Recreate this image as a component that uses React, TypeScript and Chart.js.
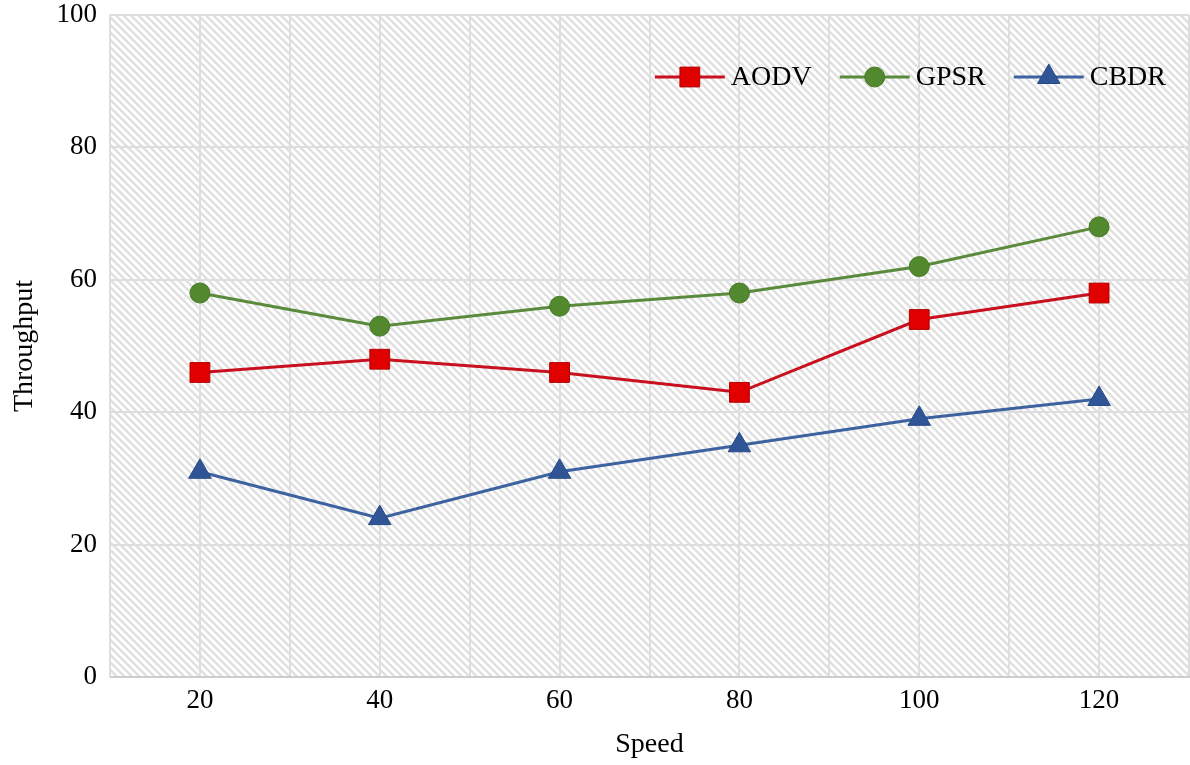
import React, { useEffect, useRef } from "react";
import { Chart, registerables } from "chart.js";

Chart.register(...registerables);

const speeds = [20, 40, 60, 80, 100, 120];
const aodv = [46, 48, 46, 43, 54, 58];
const gpsr = [58, 53, 56, 58, 62, 68];
const cbdr = [31, 24, 31, 35, 39, 42];
const seriesLabels = ["AODV", "GPSR", "CBDR"];
const xTickLabels = ["20", "40", "60", "80", "100", "120"];

const FONT = "'Liberation Serif', 'Times New Roman', serif";

const hatchPlugin = {
  id: "hatch",
  beforeDraw(chart: any) {
    const { ctx, chartArea } = chart;
    const { left, top, right, bottom } = chartArea;
    const h = bottom - top;
    ctx.save();
    ctx.fillStyle = "#ffffff";
    ctx.fillRect(left, top, right - left, h);
    ctx.beginPath();
    ctx.rect(left, top, right - left, h);
    ctx.clip();
    ctx.strokeStyle = "#dfdfdf";
    ctx.lineWidth = 2.4;
    ctx.beginPath();
    for (let x = left - h; x < right + 8; x += 7.5) {
      ctx.moveTo(x, top);
      ctx.lineTo(x + h, bottom);
    }
    ctx.stroke();
    ctx.restore();
  },
};

const legendPlugin = {
  id: "lineLegend",
  afterDraw(chart: any) {
    const { ctx, chartArea } = chart;
    const datasets = chart.data.datasets;
    ctx.save();
    ctx.font = `28px ${FONT}`;
    const lineLen = 70;
    const gapText = 6;
    const gapItem = 28;
    const widths = datasets.map((d: any) => ctx.measureText(d.label).width);
    let total = 0;
    datasets.forEach((_: any, i: number) => {
      total += lineLen + gapText + widths[i];
      if (i < datasets.length - 1) total += gapItem;
    });
    let x = chartArea.right - 23 - total;
    const y = chartArea.top + 62;
    datasets.forEach((d: any, i: number) => {
      ctx.strokeStyle = d.borderColor;
      ctx.lineWidth = 3;
      ctx.beginPath();
      ctx.moveTo(x, y);
      ctx.lineTo(x + lineLen, y);
      ctx.stroke();
      ctx.fillStyle = d.pointBackgroundColor;
      ctx.strokeStyle = d.pointBorderColor;
      ctx.lineWidth = d.pointBorderWidth;
      ctx.beginPath();
      const px = x + lineLen / 2;
      if (d.pointStyle === "rect") {
        const s = Math.SQRT1_2 * d.pointRadius;
        ctx.rect(px - s, y - s, 2 * s, 2 * s);
      } else if (d.pointStyle === "circle") {
        ctx.arc(px, y, d.pointRadius, 0, Math.PI * 2);
      } else {
        const r = d.pointRadius;
        let a = 0;
        ctx.moveTo(px + Math.sin(a) * r, y - Math.cos(a) * r);
        a += (2 * Math.PI) / 3;
        ctx.lineTo(px + Math.sin(a) * r, y - Math.cos(a) * r);
        a += (2 * Math.PI) / 3;
        ctx.lineTo(px + Math.sin(a) * r, y - Math.cos(a) * r);
        ctx.closePath();
      }
      ctx.fill();
      ctx.stroke();
      ctx.fillStyle = "#000000";
      ctx.textAlign = "left";
      ctx.textBaseline = "middle";
      ctx.fillText(d.label, x + lineLen + gapText, y + 1);
      x += lineLen + gapText + widths[i] + gapItem;
    });
    ctx.restore();
  },
};

export default function App() {
  const ref = useRef<HTMLCanvasElement | null>(null);

  useEffect(() => {
    document.body.style.margin = "0";
    document.body.style.overflow = "hidden";
    document.documentElement.style.overflow = "hidden";
    if (!ref.current) return;
    const toPts = (vals: number[]) => speeds.map((s, i) => ({ x: s, y: vals[i] }));
    const chart = new Chart(ref.current, {
      type: "line",
      data: {
        datasets: [
          {
            label: seriesLabels[0],
            data: toPts(aodv),
            borderColor: "#c8101e",
            borderWidth: 3,
            pointStyle: "rect",
            pointRadius: 14,
            pointBackgroundColor: "#e00000",
            pointBorderColor: "#b40000",
            pointBorderWidth: 1,
            tension: 0,
          },
          {
            label: seriesLabels[1],
            data: toPts(gpsr),
            borderColor: "#5a8a3c",
            borderWidth: 3,
            pointStyle: "circle",
            pointRadius: 10,
            pointBackgroundColor: "#52892e",
            pointBorderColor: "#477a26",
            pointBorderWidth: 1,
            tension: 0,
          },
          {
            label: seriesLabels[2],
            data: toPts(cbdr),
            borderColor: "#3d62a0",
            borderWidth: 3,
            pointStyle: "triangle",
            pointRadius: 13,
            pointBackgroundColor: "#2f5597",
            pointBorderColor: "#284a86",
            pointBorderWidth: 1,
            tension: 0,
          },
        ] as any,
      },
      options: {
        animation: false,
        responsive: false,
        layout: { padding: { top: 14, right: 1, bottom: 0, left: 0 } },
        plugins: {
          legend: { display: false },
          tooltip: { enabled: false },
        },
        scales: {
          x: {
            type: "linear",
            min: 10,
            max: 130,
            afterFit: (s: any) => {
              s.height = 88;
              s.paddingLeft = 0;
              s.paddingRight = 0;
            },
            ticks: {
              stepSize: 10,
              autoSkip: false,
              maxRotation: 0,
              padding: 8,
              color: "#000000",
              font: { family: FONT, size: 27 },
              callback: (v: any) => {
                const i = speeds.indexOf(Number(v));
                return i >= 0 ? xTickLabels[i] : "";
              },
            },
            grid: { color: "#dedede", lineWidth: 2, drawTicks: false },
            border: { color: "#cdcdcd", width: 2 },
            title: {
              display: true,
              text: "Speed",
              color: "#000000",
              font: { family: FONT, size: 28 },
              padding: { top: 0, bottom: 4 },
            },
          },
          y: {
            min: 0,
            max: 100,
            afterFit: (s: any) => {
              s.width = 110;
              s.paddingTop = 0;
              s.paddingBottom = 0;
            },
            ticks: {
              stepSize: 20,
              padding: 13,
              color: "#000000",
              font: { family: FONT, size: 27 },
            },
            grid: { color: "#dedede", lineWidth: 2, drawTicks: false },
            border: { color: "#dedede", width: 2 },
            title: {
              display: true,
              text: "Throughput",
              color: "#000000",
              font: { family: FONT, size: 28 },
              padding: { top: 8, bottom: 0 },
            },
          },
        },
      } as any,
      plugins: [hatchPlugin, legendPlugin],
    });
    return () => chart.destroy();
  }, []);

  return (
    <div style={{ width: 1190, height: 765, overflow: "hidden" }}>
      <canvas
        ref={ref}
        width={1204}
        height={765}
        style={{ display: "block", width: 1204, height: 765 }}
      />
    </div>
  );
}
